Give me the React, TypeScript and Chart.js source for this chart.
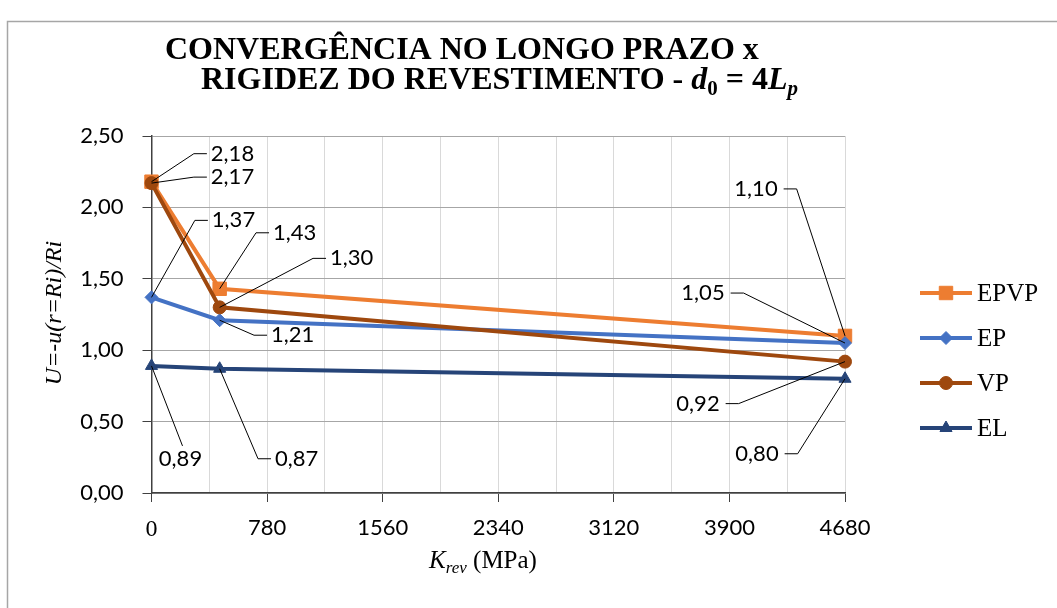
import React, { useEffect, useRef } from 'react';
import { Chart, registerables } from 'chart.js';
import { drawPoint } from 'chart.js/helpers';

Chart.register(...registerables);

// ---- data ----
const kRev = [0, 460, 4680];
const epvp = [2.18, 1.43, 1.1];
const ep = [1.37, 1.21, 1.05];
const vp = [2.17, 1.3, 0.92];
const el = [0.89, 0.87, 0.8];
const seriesNames = ['EPVP', 'EP', 'VP', 'EL'];
const xMax = 4680;
const xMajor = 780;
const xMinor = 390;
const yMax = 2.5;
const yStep = 0.5;

// ---- styles ----
const colors = ['#ED7D31', '#4472C4', '#9E480E', '#264478'];
const pointStyles = ['rect', 'rectRot', 'circle', 'triangle'];
const pointRadii = [9.5, 6.5, 6.5, 7];

// label placement (pixel offsets of label centre from its point)
const labelOffsets: any[][] = [
  [[81, -28], [75, -56], [-89, -147]],
  [[82, -77], [73, 15], [-142, -50]],
  [[81, -6], [132, -49], [-147, 42]],
  [[29, 93, 'b'], [77, 90], [-88, 75]],
];

const fmt = (v: number) => v.toFixed(2).replace('.', ',');
const SERIF = '"Liberation Serif", "Times New Roman", serif';
const SANS = 'Lato, "Open Sans", sans-serif';

const decor = {
  id: 'decor',
  beforeDraw(chart: any) {
    const ctx = chart.ctx;
    ctx.save();
    ctx.strokeStyle = '#a6a6a6';
    ctx.lineWidth = 1.5;
    ctx.beginPath();
    ctx.moveTo(7.5, 620);
    ctx.lineTo(7.5, 21.5);
    ctx.lineTo(1070, 21.5);
    ctx.stroke();
    ctx.restore();
  },
  afterDatasetsDraw(chart: any) {
    const ctx = chart.ctx;
    ctx.save();
    ctx.font = `22px ${SANS}`;
    ctx.fillStyle = '#000';
    ctx.strokeStyle = '#000';
    ctx.lineWidth = 1;
    ctx.textBaseline = 'middle';
    ctx.textAlign = 'center';
    chart.data.datasets.forEach((ds: any, i: number) => {
      const meta = chart.getDatasetMeta(i);
      meta.data.forEach((pt: any, j: number) => {
        const off = labelOffsets[i][j];
        const txt = fmt(ds.data[j].y);
        const cx = pt.x + off[0];
        const cy = pt.y + off[1];
        const w = ctx.measureText(txt).width;
        ctx.beginPath();
        if (off[2] === 'b') {
          ctx.moveTo(pt.x, pt.y);
          ctx.lineTo(cx + 2, cy - 13);
        } else if (off[0] > 0) {
          const end = cx - w / 2 - 4;
          ctx.moveTo(pt.x, pt.y);
          ctx.lineTo(end - 13, cy);
          ctx.lineTo(end, cy);
        } else {
          const start = cx + w / 2 + 6;
          ctx.moveTo(start, cy);
          ctx.lineTo(start + 13, cy);
          ctx.lineTo(pt.x, pt.y);
        }
        ctx.stroke();
        ctx.fillText(txt, cx, cy);
      });
    });
    ctx.restore();
  },
  afterDraw(chart: any) {
    const ctx = chart.ctx;
    ctx.save();
    ctx.fillStyle = '#000';
    ctx.textBaseline = 'alphabetic';
    ctx.textAlign = 'left';
    // title
    const B = `bold 32px ${SERIF}`;
    const BI = `italic bold 32px ${SERIF}`;
    const BS = `bold 21px ${SERIF}`;
    const BIS = `italic bold 21px ${SERIF}`;
    ctx.font = B;
    ctx.fillText('CONVERGÊNCIA NO LONGO PRAZO x', 165, 59);
    const parts: [string, string, number][] = [
      ['RIGIDEZ DO REVESTIMENTO - ', B, 0],
      ['d', BI, 0],
      ['0', BS, 6],
      [' = 4', B, 0],
      ['L', BI, 0],
      ['p', BIS, 6],
    ];
    let x = 201;
    parts.forEach(([t, f, dy]) => {
      ctx.font = f;
      ctx.fillText(t, x, 89 + dy);
      x += ctx.measureText(t).width;
    });
    // y axis title
    ctx.save();
    ctx.translate(55, 313);
    ctx.rotate(-Math.PI / 2);
    ctx.font = `italic 24px ${SERIF}`;
    ctx.textAlign = 'center';
    ctx.textBaseline = 'middle';
    ctx.fillText('U=-u(r=Ri)/Ri', 0, 0);
    ctx.restore();
    // x axis title
    const xt: [string, string, number][] = [
      ['K', `italic 25px ${SERIF}`, 0],
      ['rev', `italic 17px ${SERIF}`, 5],
      [' (MPa)', `25px ${SERIF}`, 0],
    ];
    let tw = 0;
    xt.forEach(([t, f]) => {
      ctx.font = f;
      tw += ctx.measureText(t).width;
    });
    x = 483 - tw / 2;
    xt.forEach(([t, f, dy]) => {
      ctx.font = f;
      ctx.fillText(t, x, 568 + dy);
      x += ctx.measureText(t).width;
    });
    // legend
    const ly = [293, 338, 383, 428];
    seriesNames.forEach((name, i) => {
      const y = ly[i];
      ctx.strokeStyle = colors[i];
      ctx.lineWidth = 4;
      ctx.beginPath();
      ctx.moveTo(920, y);
      ctx.lineTo(972, y);
      ctx.stroke();
      ctx.fillStyle = colors[i];
      ctx.lineWidth = 1;
      drawPoint(ctx, { pointStyle: pointStyles[i], radius: pointRadii[i], rotation: 0, borderWidth: 1 } as any, 946, y);
      ctx.fillStyle = '#000';
      ctx.font = `25px ${SERIF}`;
      ctx.textBaseline = 'middle';
      ctx.fillText(name, 977, y + 1);
      ctx.textBaseline = 'alphabetic';
    });
    ctx.restore();
  },
};

export default function App() {
  const ref = useRef<HTMLCanvasElement>(null);
  useEffect(() => {
    if (!ref.current) return;
    const all = [epvp, ep, vp, el];
    const chart = new Chart(ref.current, {
      type: 'line',
      data: {
        datasets: all.map((arr, i) => ({
          label: seriesNames[i],
          data: arr.map((v, j) => ({ x: kRev[j], y: v })),
          borderColor: colors[i],
          backgroundColor: colors[i],
          borderWidth: 4,
          pointStyle: pointStyles[i] as any,
          pointRadius: pointRadii[i],
          pointBorderWidth: 1,
          pointBorderColor: colors[i],
          pointBackgroundColor: colors[i],
          tension: 0,
          clip: false as any,
          order: 4 - i,
        })),
      },
      options: {
        responsive: false,
        animation: false,
        events: [],
        layout: { padding: { top: 136, right: 212, left: 0, bottom: 0 } },
        plugins: {
          legend: { display: false },
          tooltip: { enabled: false },
          title: { display: false },
        },
        scales: {
          x: {
            type: 'linear',
            min: 0,
            max: xMax,
            afterFit: (s: any) => {
              s.height = 115;
            },
            ticks: {
              stepSize: xMinor,
              autoSkip: false,
              maxRotation: 0,
              minRotation: 0,
              padding: 13,
              color: '#000',
              font: (c: any) =>
                c.tick && c.tick.value === 0
                  ? { family: SERIF, size: 24 }
                  : { family: SANS, size: 22 },
              callback: (v: any) => (Number(v) % xMajor === 0 ? String(v) : ''),
            },
            grid: {
              color: '#d9d9d9',
              lineWidth: 1,
              tickLength: 9,
              tickColor: (c: any) =>
                c.tick && c.tick.value % xMajor === 0 ? '#404040' : 'rgba(0,0,0,0)',
            },
            border: { color: '#404040', width: 1.5 },
          },
          y: {
            min: 0,
            max: yMax,
            afterFit: (s: any) => {
              s.width = 151.5;
            },
            ticks: {
              stepSize: yStep,
              padding: 19,
              color: '#000',
              font: { family: SANS, size: 22 },
              callback: (v: any) => fmt(Number(v)),
            },
            grid: {
              color: '#a6a6a6',
              lineWidth: 1,
              tickLength: 9,
              tickColor: '#404040',
            },
            border: { color: '#404040', width: 1.5 },
          },
        },
      },
      plugins: [decor],
    });
    return () => chart.destroy();
  }, []);
  return (
    <div style={{ position: 'fixed', left: 0, top: 0, width: 1057, height: 608, background: '#fff' }}>
      <canvas ref={ref} width={1057} height={608} style={{ display: 'block' }} />
    </div>
  );
}
